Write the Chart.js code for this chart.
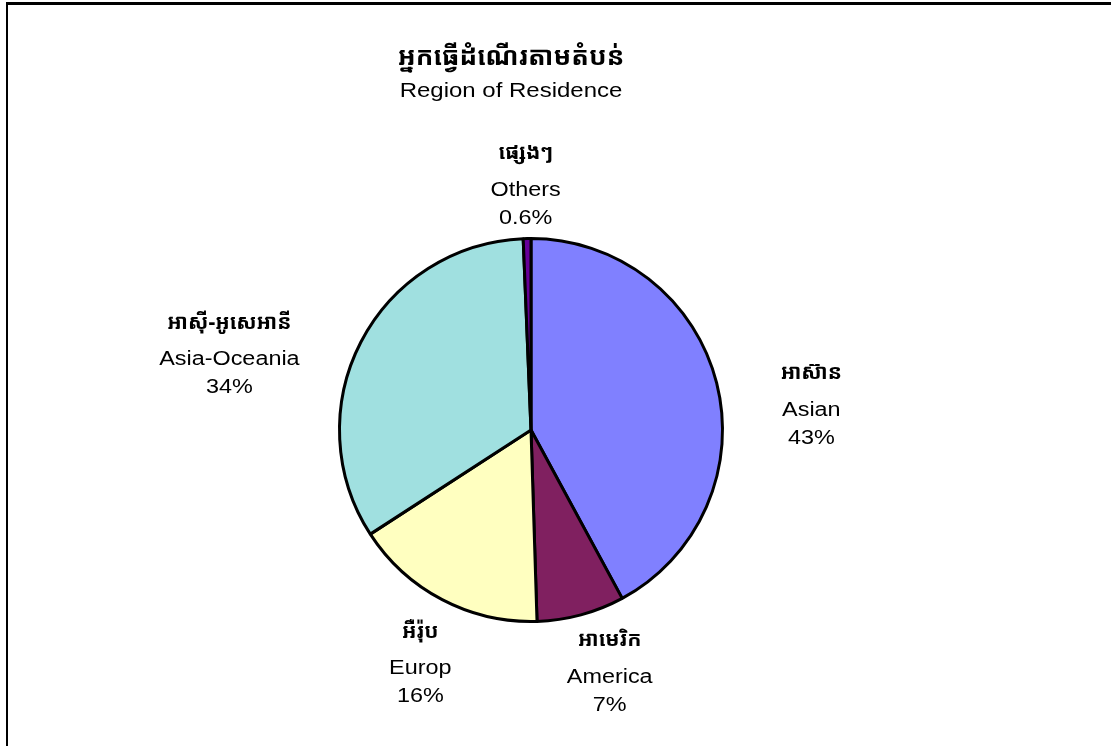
<!DOCTYPE html>
<html>
<head>
<meta charset="utf-8">
<script src="https://cdn.jsdelivr.net/npm/chart.js@4"></script>
<style>
  html, body { margin: 0; padding: 0; background: #fff; }
  #wrap { position: relative; width: 1111px; height: 746px; overflow: hidden; }
  #frame { position: absolute; left: 6px; top: 2px; width: 1200px; height: 800px;
           border-top: 3px solid #000; border-left: 2px solid #000; box-sizing: border-box; pointer-events: none; }
  canvas { position: absolute; left: 0; top: 0; }
</style>
</head>
<body>
<div id="wrap">
  <canvas id="c" width="1111" height="746"></canvas>
  <div id="frame"></div>
</div>
<script>
// ---- data ----
const titleKhmer = 'អ្នកធ្វើដំណើរតាមតំបន់';
const titleEnglish = 'Region of Residence';
const categoriesKhmer = ['អាស៊ាន', 'អាមេរិក', 'អឺរ៉ុប', 'អាស៊ី-អូសេអានី', 'ផ្សេងៗ'];
const categoriesEnglish = ['Asian', 'America', 'Europ', 'Asia-Oceania', 'Others'];
const percentLabels = ['43%', '7%', '16%', '34%', '0.6%'];
const shareValues = [42.1, 7.4, 16.35, 33.5, 0.65];
const sliceColors = ['#8080FF', '#802060', '#FFFFC0', '#A0E0E0', '#660099'];

// label anchor offsets relative to pie centre, in units of the radius (x, y of Khmer line)
const labelAnchors = [
  [1.464, -0.295],
  [0.411, 1.098],
  [-0.578, 1.054],
  [-1.575, -0.560],
  [-0.028, -1.445]
];

const LATIN = '"Liberation Sans", Arial, sans-serif';
const KHMER = '"Noto Sans Khmer", "Khmer OS", "Khmer OS System", "Noto Serif Khmer", sans-serif';
const STRETCH = 1.17;

function drawText(ctx, text, x, y, font, sx) {
  ctx.save();
  ctx.font = font;
  ctx.translate(x, y);
  ctx.scale(sx, 1);
  ctx.fillText(text, 0, 0);
  ctx.restore();
}

const textPlugin = {
  id: 'textPlugin',
  afterDraw(chart) {
    const ctx = chart.ctx;
    const meta = chart.getDatasetMeta(0);
    const a0 = meta.data[0];
    const cx = a0.x, cy = a0.y, r = a0.outerRadius;
    ctx.save();
    ctx.fillStyle = '#000';
    ctx.textAlign = 'center';
    ctx.textBaseline = 'middle';
    // titles
    drawText(ctx, titleKhmer, cx - 20, cy - 372, 'bold 26px ' + KHMER, 1.0);
    drawText(ctx, titleEnglish, cx - 20, cy - 339, '20.5px ' + LATIN, STRETCH);
    // slice labels
    categoriesKhmer.forEach((k, i) => {
      const x = cx + labelAnchors[i][0] * r;
      const y = cy + labelAnchors[i][1] * r;
      drawText(ctx, k, x, y, 'bold 21px ' + KHMER, 1.0);
      drawText(ctx, categoriesEnglish[i], x, y + 37, '20px ' + LATIN, STRETCH);
      drawText(ctx, percentLabels[i], x, y + 65, '20px ' + LATIN, STRETCH);
    });
    ctx.restore();
  }
};

new Chart(document.getElementById('c'), {
  type: 'pie',
  data: {
    labels: categoriesEnglish,
    datasets: [{
      data: shareValues,
      backgroundColor: sliceColors,
      borderColor: '#000',
      borderWidth: 3
    }]
  },
  options: {
    responsive: false,
    animation: false,
    layout: { padding: { left: 338, right: 387, top: 237, bottom: 123 } },
    plugins: {
      legend: { display: false },
      tooltip: { enabled: false },
      title: { display: false }
    }
  },
  plugins: [textPlugin]
});
</script>
</body>
</html>
